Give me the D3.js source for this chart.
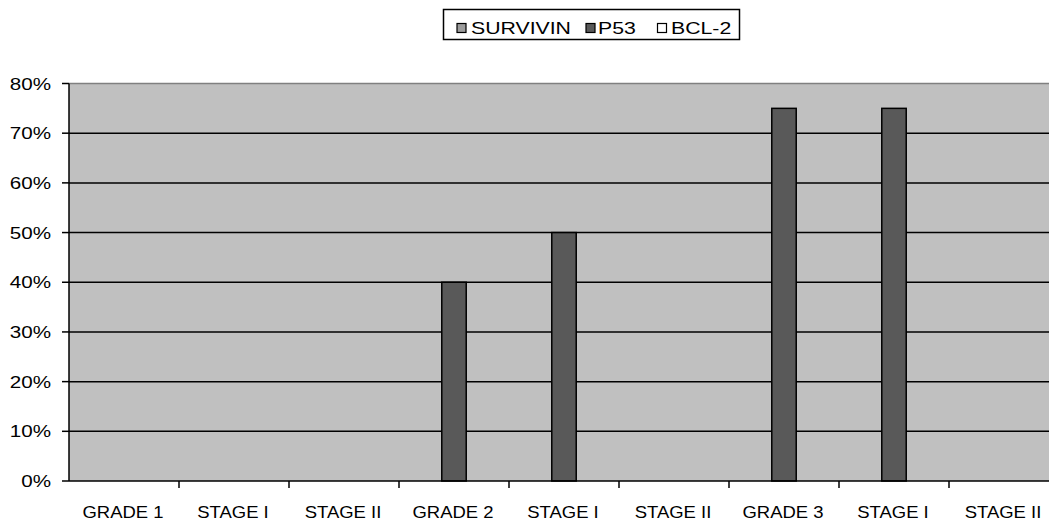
<!DOCTYPE html>
<html><head><meta charset="utf-8">
<script src="https://cdn.jsdelivr.net/npm/d3@7"></script>
<style>
html,body{margin:0;padding:0;background:#fff;}
svg{display:block;}
text{font-family:"Liberation Sans",Arial,sans-serif;font-size:16px;fill:#000;}
</style></head>
<body>
<svg id="chart" width="1049" height="522"></svg>
<script>
const categories = ["GRADE 1","STAGE I","STAGE II","GRADE 2","STAGE I","STAGE II","GRADE 3","STAGE I","STAGE II"];
const seriesNames = ["SURVIVIN","P53","BCL-2"];
const seriesColors = ["#9c9c9c","#595959","#ffffff"];
const survivin = [0,0,0,0,0,0,0,0,0];
const p53 = [0,0,0,0.40,0.50,0,0.75,0.75,0];
const bcl2 = [0,0,0,0,0,0,0,0,0];
const yTicks = [0,0.1,0.2,0.3,0.4,0.5,0.6,0.7,0.8];
const seriesValues = [survivin,p53,bcl2];

(function(){
const svg = d3.select("#chart");
const pL = 69, pR = 1059, pT = 83.5, pB = 481;
const SX = 1.2;

const x = d3.scaleBand().domain(d3.range(categories.length)).range([pL,pR]);
const xi = d3.scaleBand().domain(d3.range(seriesNames.length)).range([0,x.bandwidth()]).paddingOuter(0.75).paddingInner(0);
const y = d3.scaleLinear().domain([0,0.8]).range([pB,pT]);

svg.append("rect").attr("x",pL).attr("y",pT).attr("width",pR-pL).attr("height",pB-pT)
  .attr("fill","#c0c0c0");
svg.append("line").attr("x1",pL).attr("x2",pR).attr("y1",pT).attr("y2",pT)
  .attr("stroke","#808080").attr("stroke-width",1.5);

svg.append("g").selectAll("line").data(yTicks.filter(t=>t>0 && t<0.8)).join("line")
  .attr("x1",pL).attr("x2",pR).attr("y1",d=>y(d)).attr("y2",d=>y(d))
  .attr("stroke","#000").attr("stroke-width",1.5);

const groups = svg.append("g").selectAll("g").data(seriesValues).join("g")
  .attr("fill",(d,i)=>seriesColors[i]);
groups.each(function(vals,si){
  d3.select(this).selectAll("rect").data(vals.map((v,ci)=>({v,ci})).filter(d=>d.v>0)).join("rect")
    .attr("x",d=>x(d.ci)+xi(si))
    .attr("width",xi.bandwidth())
    .attr("y",d=>y(d.v))
    .attr("height",d=>y(0)-y(d.v))
    .attr("stroke","#000").attr("stroke-width",1.5);
});

const ya = svg.append("g");
ya.append("line").attr("x1",pL).attr("x2",pL).attr("y1",pT).attr("y2",pB).attr("stroke","#000").attr("stroke-width",1.5);
ya.selectAll("line.t").data(yTicks).join("line").attr("class","t")
  .attr("x1",pL-7).attr("x2",pL).attr("y1",d=>y(d)).attr("y2",d=>y(d)).attr("stroke","#000").attr("stroke-width",1.5);
ya.selectAll("text").data(yTicks).join("text")
  .attr("transform",d=>`translate(51,${y(d)+6}) scale(1.25,1)`)
  .attr("text-anchor","end")
  .style("font-size","16.5px")
  .text(d=>d3.format(".0%")(d));

const xa = svg.append("g");
xa.append("line").attr("x1",pL).attr("x2",pR).attr("y1",pB).attr("y2",pB).attr("stroke","#000").attr("stroke-width",1.5);
xa.selectAll("line.t").data(d3.range(1,categories.length)).join("line").attr("class","t")
  .attr("x1",d=>x(d)).attr("x2",d=>x(d)).attr("y1",pB).attr("y2",pB+7).attr("stroke","#000").attr("stroke-width",1.5);
xa.selectAll("text").data(categories).join("text")
  .attr("transform",(d,i)=>`translate(${x(i)+x.bandwidth()/2-1},518) scale(1.12,1)`)
  .attr("text-anchor","middle")
  .style("font-size","16.5px")
  .text(d=>d);

const lg = svg.append("g");
lg.append("rect").attr("x",443.5).attr("y",9.5).attr("width",296).attr("height",30)
  .attr("fill","#fff").attr("stroke","#000").attr("stroke-width",1.5);
const legX = [457,586,657.5];
const legTX = [471,598,671];
seriesNames.forEach((n,i)=>{
  lg.append("rect").attr("x",legX[i]).attr("y",23.5).attr("width",9).attr("height",9)
    .attr("fill",seriesColors[i]).attr("stroke","#000").attr("stroke-width",1.2);
  lg.append("text").attr("transform",`translate(${legTX[i]},34) scale(1.25,1)`)
    .style("font-size","17px").text(n);
});
})();
</script>
</body></html>
